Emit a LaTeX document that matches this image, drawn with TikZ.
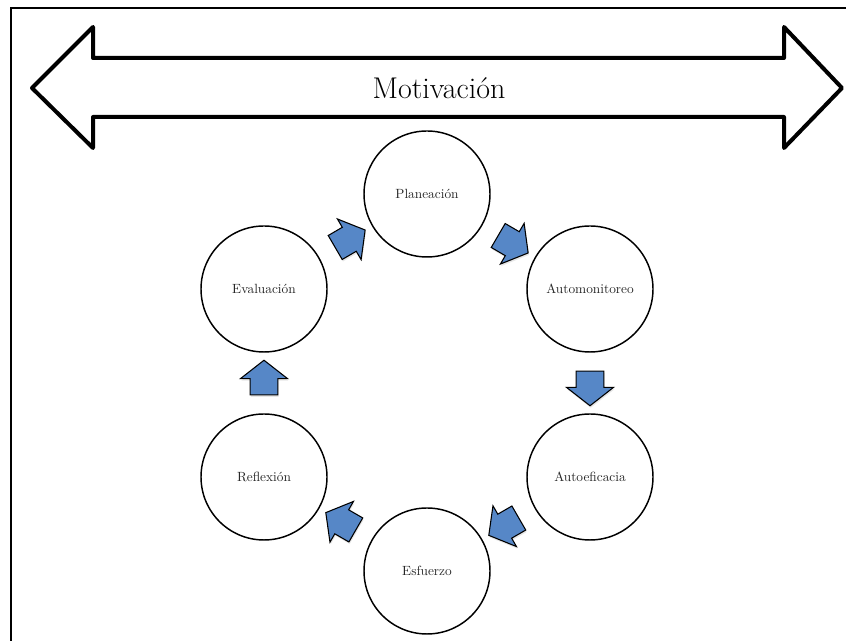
\documentclass[tikz,border=0pt]{standalone}
\usetikzlibrary{shapes.arrows,shadows}
\definecolor{azul}{RGB}{86,135,199}
\begin{document}
\begin{tikzpicture}[x=0.75pt,y=0.75pt,
  etapa/.style={draw, circle, line width=1.1pt, minimum size=94.5pt, inner sep=0pt,
    text=black!85, font=\fontsize{10}{12}\selectfont},
  flecha/.style={midway, sloped, allow upside down, single arrow, draw, fill=azul,
    line width=0.8pt, inner xsep=0pt, inner ysep=10pt, minimum height=26pt,
    single arrow head extend=7.25pt, single arrow tip angle=104,
    drop shadow={opacity=0.2, shadow xshift=0.6pt, shadow yshift=-1.5pt}}]
\useasboundingbox (0,0) rectangle (846,641);
% marco
\draw[line width=1.5pt] (11,0) -- (11,633) -- (846,633);
% flecha doble
\draw[line width=3pt, line join=round] (32,553) -- (93,614) -- (93,583) -- (784,583)
  -- (784,614) -- (842,553) -- (784,493) -- (784,524) -- (93,524) -- (93,493) -- cycle;
\node[anchor=base, font=\fontsize{22.5}{26}\selectfont] (m) at (439,542) {Motivación};
% ciclo
\node[etapa] (1) at (427,447) {Planeación};
\node[etapa] (2) at (590,352) {Automonitoreo};
\node[etapa] (3) at (590,164) {Autoeficacia};
\node[etapa] (4) at (427,70) {Esfuerzo};
\node[etapa] (5) at (264,164) {Reflexión};
\node[etapa] (6) at (264,352) {Evaluación};
\path (6) -- (1) node[flecha] {};
\path (1) -- (2) node[flecha] {};
\path (2) -- (3) node[flecha] {};
\path (3) -- (4) node[flecha] {};
\path (4) -- (5) node[flecha] {};
\path (5) -- (6) node[flecha] {};
\end{tikzpicture}
\end{document}
